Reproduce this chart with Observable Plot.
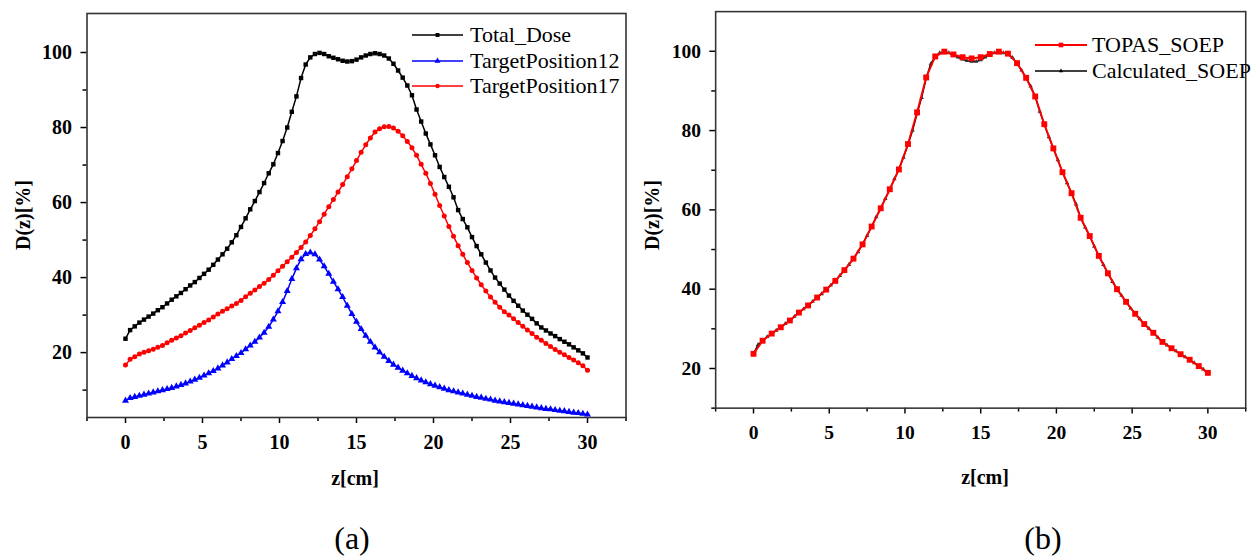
<!DOCTYPE html>
<html><head><meta charset="utf-8">
<script src="https://cdn.jsdelivr.net/npm/d3@7"></script>
<script src="https://cdn.jsdelivr.net/npm/@observablehq/plot@0.6"></script>
<style>
html,body{margin:0;padding:0;background:#fff;overflow:hidden}
#wrap{position:relative;width:1255px;height:560px;overflow:hidden;font-family:"Liberation Serif","Times New Roman",serif;color:#000}
#pa,#pb{position:absolute;top:0}
#pa{left:0}#pb{left:640px}
#pa svg,#pb svg{display:block;overflow:visible}
#pa svg text,#pb svg text{font-family:"Liberation Serif","Times New Roman",serif;font-weight:bold;fill:#000}
.ylab{position:absolute;font-weight:bold;font-size:20px;transform:translate(-50%,-50%) rotate(-90deg);white-space:nowrap;line-height:1}
.xlab{position:absolute;font-weight:bold;font-size:20px;transform:translate(-50%,-50%);white-space:nowrap;line-height:1}
.cap{position:absolute;font-size:32px;transform:translate(-50%,-50%);line-height:1}
.leg{position:absolute;display:flex;align-items:center;font-size:22px;transform:translateY(-50%);white-space:nowrap;line-height:1}
.leg svg{display:block;overflow:visible}
</style></head>
<body>
<div id="wrap">
  <div id="pa"></div>
  <div id="pb"></div>
  <div class="ylab" style="left:23px;top:215px">D(z)[%]</div>
  <div class="xlab" style="left:355px;top:478px">z[cm]</div>
  <div class="cap" style="left:352px;top:538px">(a)</div>
  <div class="ylab" style="left:652px;top:215px">D(z)[%]</div>
  <div class="xlab" style="left:985px;top:477px">z[cm]</div>
  <div class="cap" style="left:1043px;top:538px">(b)</div>
</div>
<script>
// ---------- data ----------
const zGrid = [0,0.3,0.6,0.9,1.2,1.5,1.8,2.1,2.4,2.7,3,3.3,3.6,3.9,4.2,4.5,4.8,5.1,5.4,5.7,6,6.3,6.6,6.9,7.2,7.5,7.8,8.1,8.4,8.7,9,9.3,9.6,9.9,10.2,10.5,10.8,11.1,11.4,11.7,12,12.3,12.6,12.9,13.2,13.5,13.8,14.1,14.4,14.7,15,15.3,15.6,15.9,16.2,16.5,16.8,17.1,17.4,17.7,18,18.3,18.6,18.9,19.2,19.5,19.8,20.1,20.4,20.7,21,21.3,21.6,21.9,22.2,22.5,22.8,23.1,23.4,23.7,24,24.3,24.6,24.9,25.2,25.5,25.8,26.1,26.4,26.7,27,27.3,27.6,27.9,28.2,28.5,28.8,29.1,29.4,29.7,30];

const totalDose = [23.7,26.0,27.0,28.0,28.8,29.6,30.4,31.3,32.1,33.1,
  34.1,35.0,35.9,36.9,37.9,38.8,39.9,41.0,42.1,43.4,
  44.8,46.2,47.7,49.4,51.3,53.5,55.8,58.2,60.4,62.8,
  65.2,67.8,70.2,73.2,76.4,80.0,84.2,88.3,93.2,96.8,
  98.7,99.6,99.9,99.6,99.0,98.6,98.2,97.8,97.6,97.7,
  98.1,98.7,99.2,99.6,99.8,99.6,99.2,98.4,97.0,95.2,
  93.3,91.2,88.6,84.8,81.6,78.4,75.5,72.6,69.5,66.8,
  64.2,61.4,58.0,55.6,53.4,50.8,48.4,46.2,44.0,41.9,
  40.0,38.4,36.8,35.2,33.8,32.5,31.2,30.1,29.0,27.8,
  26.7,25.9,25.1,24.4,23.6,22.9,22.2,21.4,20.6,19.8,
  18.7];

const targetPosition12 = [7.2,7.9,8.2,8.5,8.8,9.1,9.4,9.7,10.0,10.3,
  10.6,11.0,11.4,11.8,12.3,12.8,13.3,13.9,14.5,15.1,
  15.8,16.6,17.4,18.3,19.1,19.9,20.9,21.9,22.9,24.0,
  25.3,26.9,28.8,31.0,33.5,36.4,39.6,42.5,44.9,46.3,
  46.7,46.2,44.8,43.0,41.0,38.9,36.9,34.8,32.5,30.3,
  28.2,26.3,24.5,22.9,21.4,20.1,18.9,17.8,16.8,16.0,
  15.2,14.5,13.8,13.2,12.6,12.1,11.6,11.2,10.8,10.4,
  10.0,9.7,9.4,9.1,8.8,8.5,8.2,8.0,7.7,7.5,
  7.2,7.0,6.8,6.6,6.4,6.2,6.0,5.8,5.6,5.4,
  5.2,5.0,4.9,4.7,4.5,4.4,4.2,4.0,3.9,3.7,
  3.5];

const targetPosition17 = [16.7,18.2,18.9,19.6,20.1,20.5,20.9,21.4,21.9,22.6,
  23.3,23.9,24.5,25.2,25.9,26.6,27.3,28.0,28.7,29.5,
  30.3,31.0,31.7,32.4,33.1,33.9,34.9,35.8,36.7,37.6,
  38.5,39.5,40.6,41.8,43.0,44.2,45.4,46.7,48.0,49.5,
  51.2,53.0,54.9,56.9,58.9,60.8,62.8,64.8,66.9,69.0,
  71.2,73.4,75.4,77.2,78.8,79.7,80.2,80.3,79.9,79.0,
  77.8,76.3,74.6,72.6,70.2,67.8,65.1,62.2,59.2,56.4,
  53.6,51.0,48.5,46.2,44.0,41.9,39.9,38.1,36.4,34.8,
  33.4,32.1,30.9,30.0,29.0,28.0,27.0,26.0,25.1,24.1,
  23.3,22.4,21.6,20.8,20.1,19.4,18.7,18.0,17.3,16.5,
  15.3];

const zTopas = [0,0.6,1.2,1.8,2.4,3,3.6,4.2,4.8,5.4,6,6.6,7.2,7.8,8.4,9,9.6,10.2,10.8,11.4,12,12.6,13.2,13.8,14.4,15,15.6,16.2,16.8,17.4,18,18.6,19.2,19.8,20.4,21,21.6,22.2,22.8,23.4,24,24.6,25.2,25.8,26.4,27,27.6,28.2,28.8,29.4,30];

const topasSOEP = [23.7,27.0,28.8,30.4,32.1,34.1,35.9,37.9,39.9,42.1,
  44.8,47.7,51.3,55.8,60.4,65.2,70.2,76.6,84.6,93.4,
  98.7,99.9,99.2,98.5,98.2,98.5,99.3,99.9,99.4,97.0,
  93.3,88.6,81.6,75.5,69.5,64.2,58.0,53.4,48.4,44.0,
  40.0,36.8,33.8,31.2,29.0,26.7,25.1,23.6,22.2,20.6,
  18.9];

const calculatedSOEP = [23.7,26.0,27.0,28.0,28.8,29.6,30.4,31.3,32.1,33.1,
  34.1,35.0,35.9,36.9,37.9,38.8,39.9,41.0,42.1,43.4,
  44.8,46.2,47.7,49.4,51.3,53.5,55.8,58.2,60.4,62.8,
  65.2,67.8,70.2,73.2,76.4,80.0,84.2,88.3,93.2,96.8,
  98.7,99.6,99.9,99.6,99.0,98.5,98.0,97.6,97.4,97.4,
  97.8,98.5,99.1,99.6,99.8,99.6,99.2,98.4,97.0,95.2,
  93.3,91.2,88.6,84.8,81.6,78.4,75.5,72.6,69.5,66.8,
  64.2,61.4,58.0,55.6,53.4,50.8,48.4,46.2,44.0,41.9,
  40.0,38.4,36.8,35.2,33.8,32.5,31.2,30.1,29.0,27.8,
  26.7,25.9,25.1,24.4,23.6,22.9,22.2,21.4,20.6,19.8,
  18.8];

const xMajorTicks = [0,5,10,15,20,25,30];
const xMinorTicks = [-2.5,2.5,7.5,12.5,17.5,22.5,27.5,32.5];
const yMajorTicks = [20,40,60,80,100];
const yMinorTicksA = [10,30,50,70,90];
const yMinorTicksB = [10,30,50,70,90];

const legendA = ["Total_Dose","TargetPosition12","TargetPosition17"];
const legendB = ["TOPAS_SOEP","Calculated_SOEP"];

// ---------- build ----------
const serif = '"Liberation Serif", "Times New Roman", serif';
const rows = (xs, ys) => xs.map((z, i) => ({z, v: ys[i]}));

function axes(yMinor) {
  return [
    Plot.axisX({ticks: xMajorTicks, tickSize: 6, tickPadding: 11, tickFormat: d => String(d), label: null, strokeWidth: 1.5}),
    Plot.axisX({ticks: xMinorTicks, tickSize: 4, tickFormat: () => "", label: null, strokeWidth: 1.5}),
    Plot.axisY({ticks: yMajorTicks, tickSize: 6, tickPadding: 9, tickFormat: d => String(d), label: null, strokeWidth: 1.5}),
    Plot.axisY({ticks: yMinor, tickSize: 4, tickFormat: () => "", label: null, strokeWidth: 1.5}),
    Plot.frame({stroke: "#333", strokeWidth: 1.6})
  ];
}
const figStyle = {fontFamily: serif, fontSize: "20px", fontWeight: "bold", color: "#000", background: "transparent", overflow: "visible"};

const tot = rows(zGrid, totalDose), t12 = rows(zGrid, targetPosition12), t17 = rows(zGrid, targetPosition17);
const plotA = Plot.plot({
  width: 640, height: 500,
  marginLeft: 86.5, marginRight: 14.5, marginTop: 13, marginBottom: 83,
  x: {domain: [-2.5, 32.5]},
  y: {domain: [2.7, 110.4]},
  style: figStyle,
  marks: [
    ...axes(yMinorTicksA),
    Plot.line(tot, {x: "z", y: "v", stroke: "#000", strokeWidth: 1.5}),
    Plot.dot(tot, {x: "z", y: "v", symbol: "square", fill: "#000", r: 2.5}),
    Plot.line(t12, {x: "z", y: "v", stroke: "#0000ff", strokeWidth: 1.5}),
    Plot.dot(t12, {x: "z", y: "v", symbol: "triangle", fill: "#0000ff", r: 2.6}),
    Plot.line(t17, {x: "z", y: "v", stroke: "#ff0000", strokeWidth: 1.5}),
    Plot.dot(t17, {x: "z", y: "v", symbol: "circle", fill: "#ff0000", r: 2.5})
  ]
});
document.getElementById("pa").appendChild(plotA);

const topas = rows(zTopas, topasSOEP), calc = rows(zGrid, calculatedSOEP);
const plotB = Plot.plot({
  width: 630, height: 500,
  marginLeft: 77, marginRight: 10, marginTop: 11.4, marginBottom: 82.4,
  x: {domain: [-2.5, 32.5]},
  y: {domain: [10, 110]},
  style: figStyle,
  marks: [
    ...axes(yMinorTicksB),
    Plot.line(calc, {x: "z", y: "v", stroke: "#000", strokeWidth: 1.5}),
    Plot.dot(calc, {x: "z", y: "v", symbol: "triangle", fill: "#333", r: 1.7}),
    Plot.line(topas, {x: "z", y: "v", stroke: "#ff0000", strokeWidth: 2}),
    Plot.dot(topas, {x: "z", y: "v", symbol: "square", fill: "#ff0000", r: 3.4})
  ]
});
document.getElementById("pb").appendChild(plotB);

// ---------- legends ----------
const symMap = {square: d3.symbolSquare, triangle: d3.symbolTriangle, circle: d3.symbolCircle};
function legendItem(left, top, lineLen, gap, color, sym, r, label, lw) {
  const div = document.createElement("div");
  div.className = "leg";
  div.style.left = left + "px";
  div.style.top = top + "px";
  const path = d3.symbol(symMap[sym], Math.PI * r * r)();
  div.innerHTML = `<svg width="${lineLen}" height="12"><line x1="0" x2="${lineLen}" y1="6" y2="6" stroke="${color}" stroke-width="${lw}"/><path d="${path}" transform="translate(${lineLen/2},6)" fill="${color}"/></svg><span style="margin-left:${gap}px">${label}</span>`;
  document.getElementById("wrap").appendChild(div);
}
legendItem(412, 35, 51, 7, "#000", "square", 2.2, legendA[0], 1.5);
legendItem(412, 61, 51, 7, "#0000ff", "triangle", 2.2, legendA[1], 1.5);
legendItem(412, 86, 51, 7, "#ff0000", "circle", 2.2, legendA[2], 1.5);
legendItem(1035, 45, 52, 5, "#ff0000", "square", 2.6, legendB[0], 2);
legendItem(1035, 71, 52, 5, "#000", "triangle", 1.6, legendB[1], 1.5);
</script>
</body></html>
